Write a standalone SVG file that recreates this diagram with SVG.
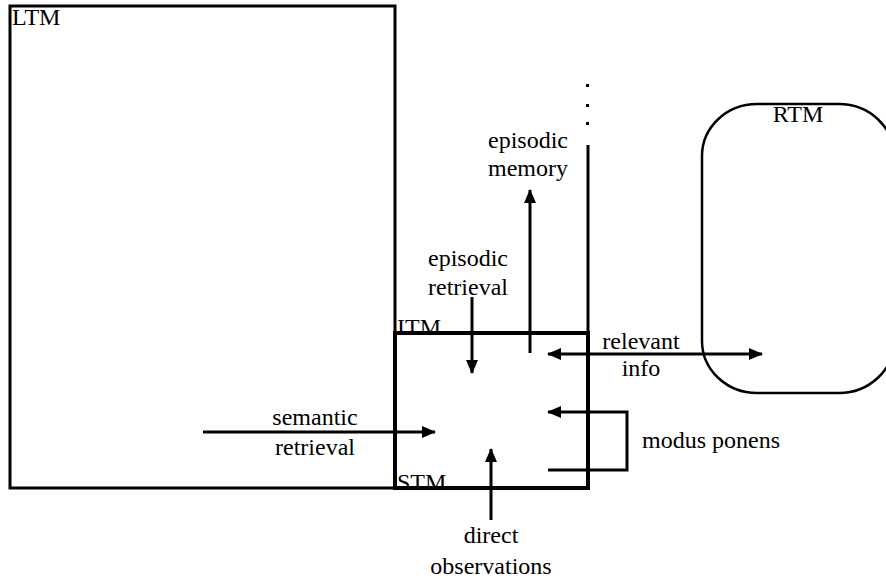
<svg xmlns="http://www.w3.org/2000/svg" width="886" height="579" viewBox="0 0 886 579">
<style>
  .box { fill: none; stroke: #000; stroke-width: 3; }
  .arr { fill: none; stroke: #000; stroke-width: 3; }
  text { font-family: 'Liberation Serif', 'Times New Roman', serif; font-size: 24px; fill: #000; }
  .c { text-anchor: middle; }
</style>
<defs>
  <marker id="ah" markerUnits="userSpaceOnUse" markerWidth="14" markerHeight="12" refX="13" refY="6" orient="auto-start-reverse">
    <path d="M0,0 L14,6 L0,12 Z" fill="#000"/>
  </marker>
</defs>
<g id="LTM">
  <rect class="box" x="10" y="6" width="385" height="482"/>
  <text x="12" y="25">LTM</text>
</g>
<g id="STM">
  <rect class="box" x="395" y="333" width="193" height="155" style="stroke-width:4"/>
  <text x="397" y="335">ITM</text>
  <text x="397" y="490">STM</text>
</g>
<g id="RTM">
  <rect class="box" x="702" y="104" width="192" height="289" rx="55" ry="52" style="stroke-width:2.5"/>
  <text class="c" x="798" y="122">RTM</text>
</g>
<g id="connectors">
  <line class="arr" x1="588" y1="333" x2="588" y2="145"/>
  <rect x="586" y="84" width="3" height="3"/>
  <rect x="586" y="104" width="3" height="3"/>
  <rect x="586" y="122" width="3" height="3"/>
  <line class="arr" x1="530" y1="353" x2="530" y2="190" marker-end="url(#ah)"/>
  <line class="arr" x1="472" y1="297" x2="472" y2="373" marker-end="url(#ah)"/>
  <line class="arr" x1="203" y1="432" x2="435" y2="432" marker-end="url(#ah)"/>
  <line class="arr" x1="491" y1="520" x2="491" y2="449" marker-end="url(#ah)"/>
  <line class="arr" x1="548" y1="354" x2="762" y2="354" marker-start="url(#ah)" marker-end="url(#ah)"/>
  <polyline class="arr" points="548,470 627,470 627,412 548,412" marker-end="url(#ah)"/>
</g>
<g id="labels">
  <text class="c" x="528" y="148">episodic</text>
  <text class="c" x="528" y="176">memory</text>
  <text class="c" x="468" y="266">episodic</text>
  <text class="c" x="468" y="295">retrieval</text>
  <text class="c" x="641" y="349">relevant</text>
  <text class="c" x="641" y="376">info</text>
  <text class="c" x="315" y="425">semantic</text>
  <text class="c" x="315" y="455">retrieval</text>
  <text x="642" y="448">modus ponens</text>
  <text class="c" x="491" y="543">direct</text>
  <text class="c" x="491" y="574">observations</text>
</g>
</svg>
